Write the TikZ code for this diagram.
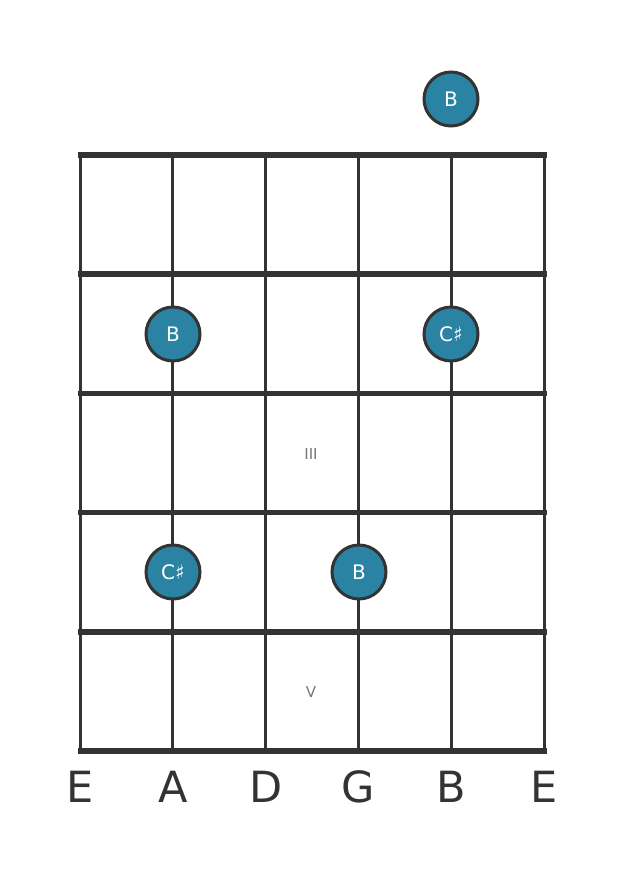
\documentclass[tikz,border=0pt]{standalone}
\usepackage{fontspec}
\setmainfont{DejaVu Sans}
\definecolor{fretgray}{HTML}{333333}
\definecolor{notefill}{HTML}{2A83A2}
\definecolor{labelgray}{HTML}{777777}
\tikzset{
	note/.style={circle,draw=fretgray,line width=3pt,fill=notefill,minimum size=54pt,inner sep=0pt,text=white,font=\fontsize{20}{20}\selectfont},
	fretlabel/.style={text=labelgray,font=\fontsize{15}{15}\selectfont},
	stringname/.style={text=fretgray,font=\fontsize{43}{43}\selectfont}
}
\begin{document}
\begin{tikzpicture}[x=1pt,y=-1pt]
	\useasboundingbox (0,0) rectangle (626,873);
	% strings
	\foreach \i/\name in {0/E,1/A,2/D,3/G,4/B,5/E}{
		\draw[fretgray,line width=3pt] ({80+92.8*\i},155) -- ({80+92.8*\i},751);
		\node[stringname] (str\i) at ({80+92.8*\i},787) {\name};
	}
	% frets
	\foreach \j in {0,...,5}
		\draw[fretgray,line width=5.5pt] (77.5,{155+119.2*\j}) -- (546.5,{155+119.2*\j});
	\node[fretlabel] (f3) at (311,454) {III};
	\node[fretlabel] (f5) at (311,692) {V};
	% notes
	\node[note] (n0) at (451,99) {B};
	\node[note] (n1) at (173,334) {B};
	\node[note] (n2) at (451,334) {C♯};
	\node[note] (n3) at (173,572) {C♯};
	\node[note] (n4) at (359,572) {B};
\end{tikzpicture}
\end{document}
